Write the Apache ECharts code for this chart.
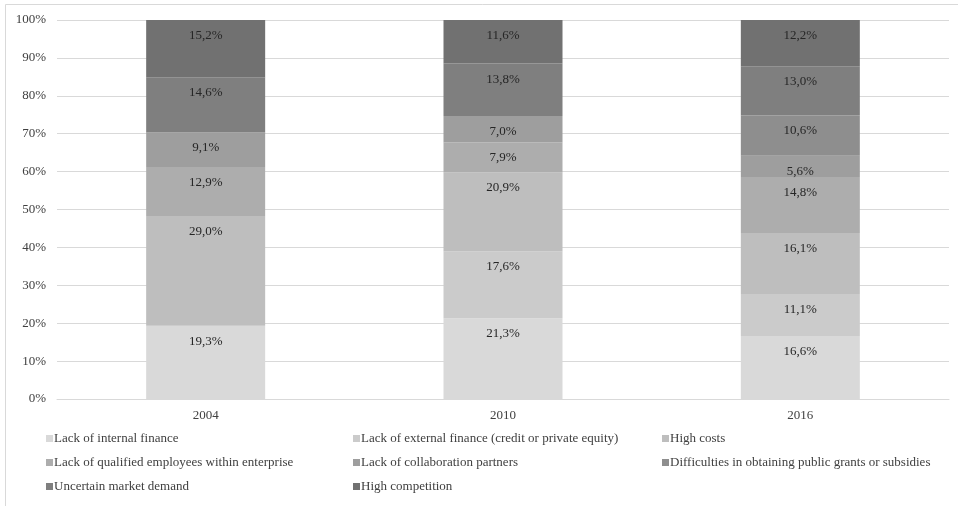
<!DOCTYPE html>
<html>
<head>
<meta charset="utf-8">
<style>
  html, body { margin: 0; padding: 0; background: #ffffff; }
  #chart { width: 958px; height: 506px; }
</style>
<script src="https://cdn.jsdelivr.net/npm/echarts@6/dist/echarts.min.js"></script>
</head>
<body>
<div id="chart"></div>
<script>
// Survey years on the x axis
const years = ['2004', '2010', '2016'];

// Share of respondents per obstacle (percent); null = not reported that year
const internalFinance     = [19.3, 21.3, 16.6];
const externalFinance     = [null, 17.6, 11.1];
const highCosts           = [29.0, 20.9, 16.1];
const qualifiedEmployees  = [12.9, 7.9, 14.8];
const collaboration       = [9.1, 7.0, 5.6];
const publicGrants        = [null, null, 10.6];
const marketDemand        = [14.6, 13.8, 13.0];
const highCompetition     = [15.2, 11.6, 12.2];

const seriesNames = [
  'Lack of internal finance',
  'Lack of external finance (credit or private equity)',
  'High costs',
  'Lack of qualified employees within enterprise',
  'Lack of collaboration partners',
  'Difficulties in obtaining public grants or subsidies',
  'Uncertain market demand',
  'High competition'
];
const seriesValues = [
  internalFinance, externalFinance, highCosts, qualifiedEmployees,
  collaboration, publicGrants, marketDemand, highCompetition
];
const yTicks = [0, 10, 20, 30, 40, 50, 60, 70, 80, 90, 100];

const greys = ['#d9d9d9', '#cbcbcb', '#bebebe', '#adadad', '#9e9e9e', '#8e8e8e', '#7f7f7f', '#717171'];
const FONT = '"Liberation Serif", "Times New Roman", serif';

const chart = echarts.init(document.getElementById('chart'));

const series = seriesNames.map((name, i) => ({
  name: name,
  type: 'bar',
  stack: 'total',
  barWidth: 119,
  data: seriesValues[i],
  itemStyle: { color: greys[i] },
  label: {
    show: true,
    position: 'insideTop',
    distance: 9,
    color: '#262626',
    fontFamily: FONT,
    fontSize: 13,
    formatter: p => (p.value == null ? '' : p.value.toFixed(1).replace('.', ',') + '%')
  },
  emphasis: { disabled: true }
}));

// Legend laid out in three columns
const legendCols = [
  { left: 41, names: [seriesNames[0], seriesNames[3], seriesNames[6]] },
  { left: 348, names: [seriesNames[1], seriesNames[4], seriesNames[7]] },
  { left: 657, names: [seriesNames[2], seriesNames[5]] }
];

chart.setOption({
  animation: false,
  backgroundColor: '#ffffff',
  textStyle: { fontFamily: FONT },
  graphic: [{
    type: 'rect',
    shape: { x: 5.5, y: 4.5, width: 980, height: 520 },
    style: { fill: 'none', stroke: '#d9d9d9', lineWidth: 1 },
    silent: true,
    z: -10
  }],
  legend: legendCols.map(c => ({
    orient: 'vertical',
    left: c.left,
    top: 427,
    itemWidth: 7,
    itemHeight: 7,
    itemGap: 11,
    icon: 'rect',
    selectedMode: false,
    data: c.names,
    textStyle: { color: '#404040', fontFamily: FONT, fontSize: 13, padding: [0, 0, 0, -4] }
  })),
  grid: { left: 57, right: 9, top: 20, bottom: 107, containLabel: false },
  xAxis: {
    type: 'category',
    data: years,
    axisLine: { lineStyle: { color: '#d9d9d9' } },
    axisTick: { show: false },
    axisLabel: { color: '#404040', fontFamily: FONT, fontSize: 13, margin: 10 }
  },
  yAxis: {
    type: 'value',
    min: yTicks[0],
    max: yTicks[yTicks.length - 1],
    interval: 10,
    axisLine: { show: false },
    axisTick: { show: false },
    splitLine: { lineStyle: { color: '#d9d9d9' } },
    axisLabel: { color: '#404040', fontFamily: FONT, fontSize: 13, margin: 11, formatter: '{value}%' }
  },
  series: series
});
</script>
</body>
</html>
